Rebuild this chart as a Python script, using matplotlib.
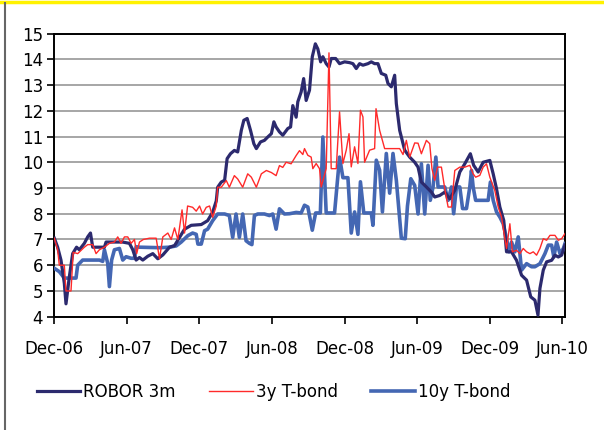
import matplotlib.pyplot as plt
import matplotlib.dates as mdates
from matplotlib.lines import Line2D
import numpy as np
import pandas as pd

# weeks counted from 1 Dec 2006
start = pd.Timestamp("2006-12-01")

robor_wk = [0, 1.2, 2.4, 3.6, 4.2, 5.4, 6.6, 8.0, 9.0, 10.8, 12.0, 13.0, 13.8, 15.5, 18.0, 18.6,
            24.5, 27.0, 28.2, 29.4, 30.6, 31.8, 33.6, 35.4, 37.2, 39.0, 41.4, 43.2, 45.0, 46.8,
            49.2, 52.8, 55.1, 56.9, 58.2, 58.7, 60.0, 61.2, 62.1, 63.3, 64.7, 65.9, 67.2, 68.1,
            69.3, 70.5, 71.7, 72.6, 74.1, 75.5, 76.7, 78.0, 78.9, 79.7, 80.9, 82.1, 83.9, 84.9,
            85.7, 86.9, 87.5, 88.7, 89.6, 90.5, 91.7, 92.7, 93.8, 94.7, 95.7, 96.5, 97.7, 98.7,
            99.5, 101.1, 102.5, 104.3, 106.1, 107.3, 108.5, 109.7, 110.9, 112.7, 113.9, 115.1,
            116.3, 117.5, 119.1, 119.9, 121.1, 122.3, 122.9, 124.1, 125.9, 127.7, 129.5, 130.7,
            131.9, 133.7, 135.5, 136.7, 138.5, 140.3, 142.1, 143.9, 145.7, 147.5, 149.5, 150.7,
            152.3, 154.1, 156.5, 157.7, 158.9, 160.1, 161.5, 162.5, 164.3, 166.1, 167.9, 169.7,
            171.2, 172.7, 173.8, 174.5, 175.7, 176.9, 178.7, 179.9, 181.1, 182.3, 183.5]
robor = [7.05, 6.7, 6.2, 5.3, 4.5, 5.55, 6.45, 6.7, 6.6, 6.85, 7.1, 7.25, 6.7, 6.7, 6.7, 6.9,
         6.9, 6.85, 6.6, 6.2, 6.3, 6.2, 6.35, 6.45, 6.25, 6.4, 6.7, 6.76, 7.08, 7.4,
         7.55, 7.58, 7.73, 8.06, 8.5, 9.03, 9.23, 9.3, 10.14, 10.33, 10.46, 10.4, 11.24, 11.63,
         11.7, 11.24, 10.72, 10.53, 10.79, 10.85, 10.98, 11.11, 11.57, 11.37, 11.18, 11.05, 11.31, 11.37,
         12.2, 11.75, 12.35, 12.73, 13.25, 12.4, 12.8, 14.1, 14.6, 14.4, 13.9, 14.1, 13.83, 13.7,
         14.03, 14.03, 13.83, 13.9, 13.87, 13.83, 13.64, 13.83, 13.77, 13.83, 13.9, 13.83,
         13.83, 13.45, 13.38, 13.06, 12.93, 13.38, 12.28, 11.24, 10.47, 10.2, 10.0, 9.81,
         9.23, 9.04, 8.84, 8.65, 8.71, 8.84, 8.58, 8.91, 9.62, 9.94, 10.33, 9.88,
         9.62, 10.0, 10.07, 9.55, 8.97, 8.26, 7.74, 6.52, 6.52, 6.19, 5.61, 5.42,
         4.77, 4.64, 4.06, 5.1, 5.81, 6.13, 6.19, 6.39, 6.32, 6.39, 6.78]

t3_wk = [0, 1.2, 1.8, 3.6, 4.2, 6.0, 6.8, 8.4, 10.8, 12.0, 13.8, 15.0, 16.2, 18.0, 19.8, 21.6,
         22.8, 24.0, 25.2, 26.4, 27.6, 28.8, 29.6, 30.6, 32.0, 34.2, 36.6, 37.8, 39.0, 40.8,
         42.0, 43.2, 44.4, 45.9, 46.8, 47.9, 49.7, 51.0, 52.2, 53.3, 54.6, 55.8, 56.9, 58.2,
         58.7, 60.0, 61.8, 62.9, 64.7, 65.9, 67.7, 69.5, 70.8, 72.6, 74.4, 76.2, 78.0, 79.7,
         80.9, 82.1, 83.3, 85.1, 86.9, 88.1, 89.3, 89.9, 91.1, 92.3, 92.9, 94.1, 95.3, 95.9,
         97.7, 98.7, 99.5, 101.3, 102.5, 103.7, 104.9, 105.9, 106.7, 107.9, 109.1, 110.0,
         110.9, 111.5, 113.3, 115.1, 115.6, 116.9, 118.7, 121.7, 124.1, 125.3, 126.5, 127.7,
         129.5, 130.7, 131.9, 133.7, 134.9, 135.7, 136.7, 137.7, 139.1, 140.3, 141.5, 142.7,
         143.9, 145.7, 147.5, 149.3, 150.5, 151.4, 152.9, 154.1, 155.3, 156.5, 158.3, 159.5,
         160.7, 161.9, 162.5, 163.7, 164.6, 166.1, 167.3, 168.5, 169.7, 170.9, 172.1, 173.3,
         174.5, 175.7, 176.9, 178.1, 179.9, 181.1, 182.3, 183.5]
t3 = [7.05, 6.6, 6.0, 6.0, 5.0, 5.0, 6.5, 6.45, 6.7, 6.8, 6.8, 6.45, 6.6, 6.7, 6.85, 6.9,
      7.1, 6.85, 7.1, 7.1, 6.85, 7.0, 6.45, 6.9, 7.0, 7.05, 7.05, 6.25, 7.1, 7.25,
      7.0, 7.45, 7.0, 8.15, 7.25, 8.3, 8.25, 8.1, 8.3, 7.99, 8.25, 8.3, 7.86, 8.3,
      9.03, 9.03, 9.29, 9.03, 9.48, 9.35, 9.03, 9.55, 9.42, 9.03, 9.55, 9.68, 9.6, 9.48,
      9.87, 9.8, 10.0, 9.94, 10.26, 10.45, 10.3, 10.53, 10.27, 10.2, 9.75, 9.95, 9.75, 9.04,
      9.75, 14.25, 9.75, 9.75, 11.96, 9.95, 10.47, 11.11, 9.82, 10.6, 9.95, 12.02,
      11.76, 10.0, 10.47, 10.53, 12.08, 11.24, 10.53, 10.53, 10.53, 10.3, 10.85, 10.2,
      10.75, 10.74, 10.33, 10.85, 10.72, 9.75, 9.3, 9.81, 9.81, 8.97, 8.26, 8.26,
      9.68, 9.81, 9.81, 9.88, 9.55, 9.42, 9.49, 9.81, 9.94, 9.42, 8.9, 8.26,
      7.87, 7.03, 6.65, 7.61, 6.52, 6.58, 6.45, 6.65, 6.52, 6.45, 6.52, 6.39,
      6.65, 7.03, 6.97, 7.16, 7.16, 6.97, 7.03, 7.23]

t10_wk = [0, 1.8, 3.6, 6.0, 7.8, 8.4, 10.2, 12.0, 16.2, 17.4, 18.0, 19.2, 19.8, 20.6, 21.6,
          23.4, 24.6, 25.8, 27.6, 28.8, 29.4, 30.6, 37.8, 41.4, 43.8, 45.6, 48.0, 49.7, 51.0,
          51.6, 52.8, 54.0, 55.1, 56.9, 58.7, 61.2, 62.9, 64.1, 65.3, 66.5, 67.7, 68.9, 70.1,
          71.0, 71.9, 73.1, 75.5, 77.3, 78.5, 79.7, 80.9, 82.7, 84.5, 86.9, 88.7, 89.9, 91.1,
          92.7, 93.9, 95.6, 96.5, 97.7, 100.7, 102.5, 103.7, 105.5, 106.7, 107.9, 109.1,
          110.0, 111.2, 113.9, 114.5, 115.7, 116.9, 117.9, 119.3, 120.5, 121.7, 122.9, 124.7,
          126.1, 126.9, 128.1, 129.5, 130.7, 131.9, 133.1, 134.3, 135.1, 136.1, 137.1, 137.9,
          140.3, 141.5, 142.7, 143.5, 144.5, 145.7, 146.7, 148.1, 149.3, 149.9, 150.5, 151.4,
          155.9, 156.7, 157.7, 158.9, 160.1, 161.3, 162.5, 163.4, 164.3, 165.5, 166.7, 167.9,
          169.7, 171.5, 172.7, 174.5, 176.3, 177.5, 178.7, 179.5, 180.5, 181.7, 182.9, 183.5]
t10 = [5.88, 5.75, 5.5, 5.5, 5.5, 6.0, 6.2, 6.2, 6.2, 6.15, 6.6, 6.07, 5.17, 6.2, 6.6,
       6.65, 6.2, 6.33, 6.27, 6.27, 6.72, 6.7, 6.68, 6.7, 6.75, 6.9, 7.15, 7.25, 7.2,
       6.82, 6.82, 7.34, 7.4, 7.73, 7.99, 7.99, 7.93, 7.08, 7.99, 7.08, 7.99, 6.95, 6.85,
       6.8, 7.93, 7.99, 7.99, 7.93, 7.99, 7.4, 8.19, 7.99, 8.0, 8.05, 8.03, 8.33, 8.26,
       7.36, 8.03, 8.03, 10.98, 8.03, 8.03, 10.2, 9.4, 9.4, 7.25, 8.07, 7.2,
       9.24, 8.03, 8.03, 7.55, 10.08, 9.69, 8.07, 10.34, 8.8, 10.34, 9.3, 7.05,
       7.03, 8.3, 9.36, 9.1, 7.99, 9.94, 7.99, 9.88, 8.52, 9.04, 10.2, 9.04,
       9.04, 8.52, 9.04, 8.0, 9.04, 9.04, 8.2, 8.2, 9.04, 9.68, 9.04, 8.52,
       8.52, 9.23, 8.52, 8.07, 7.87, 7.61, 7.03, 6.52, 6.9, 6.52, 7.1, 5.81,
       6.06, 5.94, 5.94, 6.06, 6.45, 6.78, 6.78, 6.32, 6.9, 6.45, 6.65, 6.84]

tick_dates = ["2006-12-01", "2007-06-01", "2007-12-01", "2008-06-01",
              "2008-12-01", "2009-06-01", "2009-12-01", "2010-06-01"]
tick_labels = ["Dec-06", "Jun-07", "Dec-07", "Jun-08", "Dec-08", "Jun-09", "Dec-09", "Jun-10"]


def to_dates(weeks):
    return start + pd.to_timedelta(np.array(weeks) * 7, unit="D")


navy = "#2c2a6e"
red = "#ff2a2a"
blue = "#4467b3"

plt.rcParams["font.family"] = "DejaVu Sans"
fig = plt.figure(figsize=(6.04, 4.30), dpi=100)
ax = fig.add_axes([0.0899, 0.2635, 0.8455, 0.6585])

ax.plot(to_dates(t10_wk), t10, color=blue, lw=2.6, zorder=3)
ax.plot(to_dates(robor_wk), robor, color=navy, lw=2.3, zorder=4)
ax.plot(to_dates(t3_wk), t3, color=red, lw=1.0, zorder=5)

ax.set_ylim(4, 15)
ax.set_yticks(range(4, 16))
ax.set_xlim(start, to_dates([183.5])[0])
ax.set_xticks(pd.to_datetime(tick_dates))
ax.set_xticklabels(tick_labels)
ax.grid(axis="y", color="#a6a6a6", lw=1.4)
ax.set_axisbelow(True)
for s in ax.spines.values():
    s.set_color("black")
    s.set_linewidth(1.4)
ax.tick_params(axis="both", labelsize=12, length=5, width=1.2, color="black")
ax.tick_params(axis="x", pad=12)
ax.tick_params(axis="y", pad=3)

handles = [Line2D([], [], color=navy, lw=2.3),
           Line2D([], [], color=red, lw=1.0),
           Line2D([], [], color=blue, lw=2.6)]
fig.legend(handles, ["ROBOR 3m", "3y T-bond", "10y T-bond"], loc="center",
           bbox_to_anchor=(0.453, 0.088), ncol=3, frameon=False, fontsize=12,
           handlelength=2.6, handletextpad=0.2, columnspacing=2.0)

# yellow band on top and grey rule on the left
fig.add_artist(Line2D([0, 1], [0.9965, 0.9965], color="#fff200", lw=2.5,
                      transform=fig.transFigure))
fig.add_artist(Line2D([0.0075, 0.0075], [0, 0.993], color="#666666", lw=1.5,
                      transform=fig.transFigure))

fig.savefig("out.png", dpi=100)
